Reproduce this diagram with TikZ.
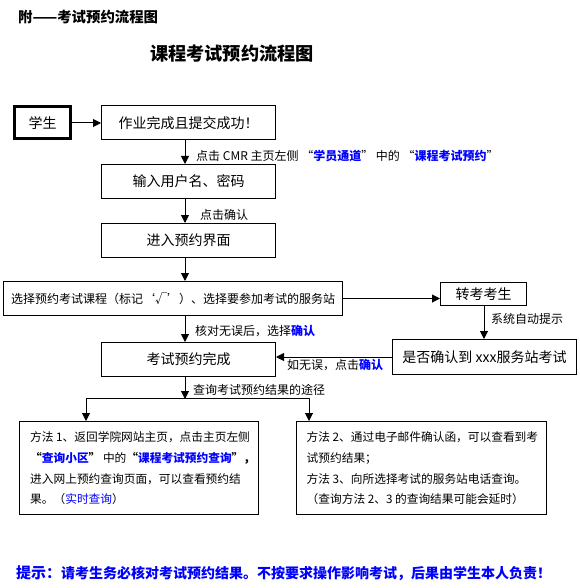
\documentclass[tikz,border=0pt]{standalone}
\usepackage{fontspec}
\setmainfont{Noto Sans CJK SC}
\usetikzlibrary{arrows.meta}
\definecolor{lnk}{RGB}{0,0,255}
\newcommand\hlt[1]{{\bfseries\color{lnk}#1}}
\begin{document}
\begin{tikzpicture}[x=1pt,y=-1pt,
  box/.style={draw, line width=1pt, inner sep=0, font=\fontsize{14}{16}\selectfont},
  arr/.style={line width=1pt, -{Triangle[width=8pt,length=8pt]}},
  lab/.style={anchor=west, inner sep=0, font=\fontsize{12}{14}\selectfont},
  txt/.style={anchor=base west, inner sep=0, font=\fontsize{11.7}{14}\selectfont}]
\fill[white] (0,0) rectangle (579,588);
\useasboundingbox (0,0) rectangle (579,588);
% titles
\node[anchor=west, inner sep=0, font=\fontsize{14.4}{16}\selectfont\bfseries] (t1) at (18,17) {附——考试预约流程图};
\node[inner sep=0, font=\fontsize{18.2}{20}\selectfont\bfseries] (t2) at (232,54) {课程考试预约流程图};
% boxes
\node[box, line width=3pt, minimum width=56, minimum height=32] (stu) at (42.5,123) {学生};
\node[box, minimum width=174, minimum height=34] (hw) at (188.5,123) {作业完成且提交成功！};
\node[box, minimum width=174, minimum height=34] (inp) at (188.5,181.5) {输入用户名、密码};
\node[box, minimum width=174, minimum height=34] (ent) at (188.5,240.5) {进入预约界面};
\node[box, minimum width=339, minimum height=34, font=\fontsize{12}{14}\selectfont] (sel) at (173,298.5) {选择预约考试课程（标记‘√’）、选择要参加考试的服务站};
\node[box, minimum width=86, minimum height=23] (tr) at (483.5,294) {转考考生};
\node[box, minimum width=184, minimum height=35] (conf) at (484.5,357) {是否确认到 xxx服务站考试};
\node[box, minimum width=174, minimum height=34] (done) at (188.5,359.5) {考试预约完成};
\node[box, minimum width=239, minimum height=93] (m1) at (139,468) {};
\node[box, minimum width=250, minimum height=93] (m2) at (421.5,468) {};
% helper coordinates
\coordinate (cx) at (185,0);
\coordinate (jm) at (185,398);
\coordinate (jl) at (86,398);
\coordinate (jr) at (309,398);
\coordinate (tx) at (484,0);
% connectors
\draw[arr] (stu.east) -- (hw.west);
\draw[arr] (cx |- hw.south) -- (cx |- inp.north);
\draw[arr] (cx |- inp.south) -- (cx |- ent.north);
\draw[arr] (cx |- ent.south) -- (cx |- sel.north);
\draw[arr] (sel.east) -- (sel.east -| tr.west);
\draw[arr] (tx |- tr.south) -- (tx |- conf.north);
\draw[arr] (cx |- sel.south) -- (cx |- done.north);
\draw[arr] (conf.west) -- (conf.west -| done.east);
\draw[arr] (cx |- done.south) -- ([yshift=-1pt]jm);
\draw[line width=1pt] (jl) -- (jr);
\draw[arr] (jl) -- (jl |- m1.north);
\draw[arr] (jr) -- (jr |- m2.north);
% labels
\node[lab] (l1) at (196,156) {点击 CMR 主页左侧 “\hlt{学员通道}” 中的 “\hlt{课程考试预约}”};
\node[lab] (l2) at (200,215) {点击确认};
\node[lab] (l3) at (195,331.5) {核对无误后，选择\hlt{确认}};
\node[lab] (l4) at (491,319) {系统自动提示};
\node[lab] (l5) at (287,365) {如无误，点击\hlt{确认}};
\node[lab] (l6) at (193,390) {查询考试预约结果的途径};
% method 1 text
\node[txt] (a1) at (30,441.5) {方法 1、返回学院网站主页，点击主页左侧};
\node[txt] (a2) at (30,462.5) {{\bfseries “}\hlt{查询小区}{\bfseries ”} 中的{\bfseries “}\hlt{课程考试预约查询}{\bfseries ”，}};
\node[txt] (a3) at (30,483) {进入网上预约查询页面，可以查看预约结};
\node[txt] (a4) at (30,503.5) {果。（\textcolor{lnk}{实时查询}）};
% method 2 text
\node[txt] (b1) at (306.5,441.5) {方法 2、通过电子邮件确认函，可以查看到考};
\node[txt] (b2) at (306.5,462.5) {试预约结果；};
\node[txt] (b3) at (306.5,483) {方法 3、向所选择考试的服务站电话查询。};
\node[txt] (b4) at (306.5,503.5) {（查询方法 2、3 的查询结果可能会延时）};
% footer
\node[anchor=base west, inner sep=0, text=lnk, font=\bfseries] (ft) at (16,578) {{\fontsize{15}{18}\selectfont 提示：}{\fontsize{14}{16}\selectfont 请考生务必核对考试预约结果。不按要求操作影响考试，后果由学生本人负责！}};
\end{tikzpicture}
\end{document}
